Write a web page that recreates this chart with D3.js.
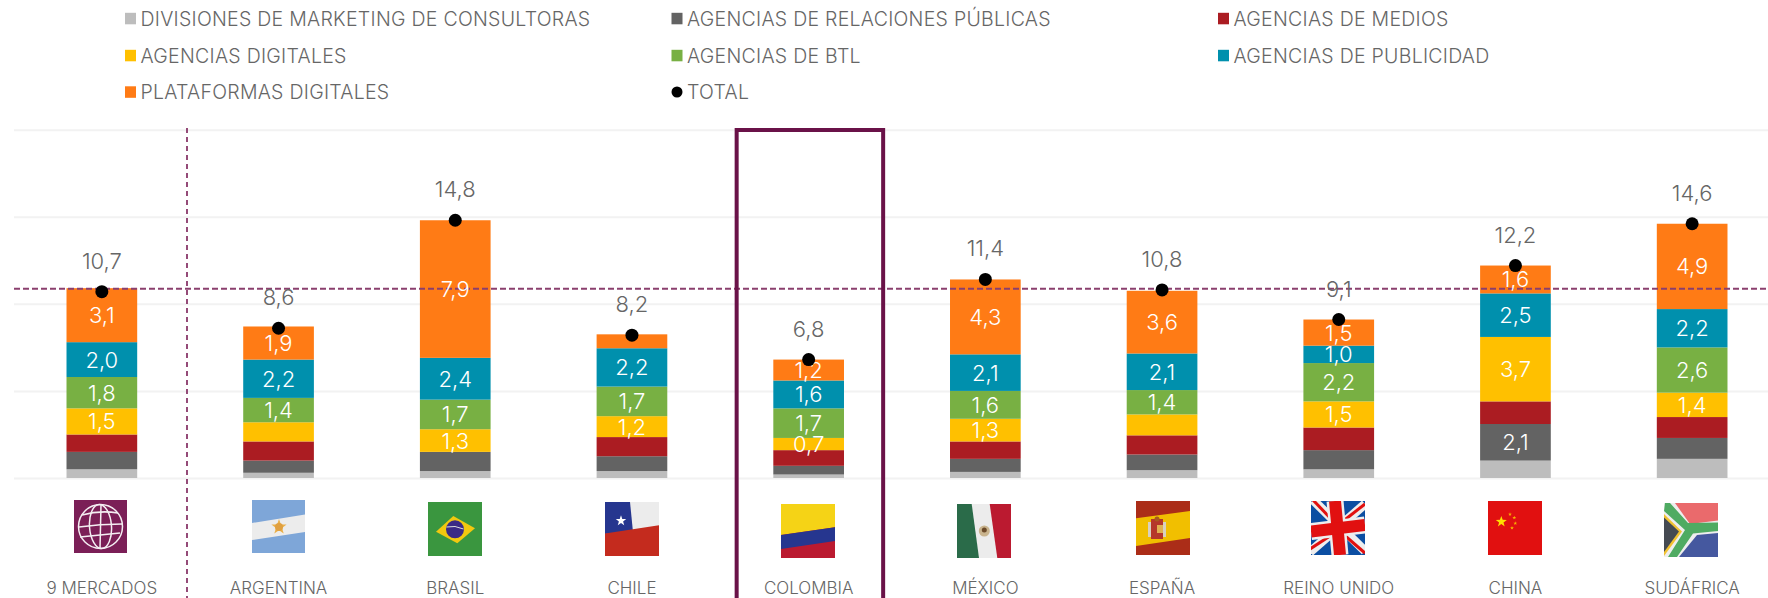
<!DOCTYPE html>
<html lang="es"><head><meta charset="utf-8">
<script src="https://cdn.jsdelivr.net/npm/d3@7"></script>
<style>
html,body{margin:0;padding:0;background:#fff;overflow:hidden}
svg{display:block;font-family:Inter,"Open Sans",sans-serif;font-weight:300}
</style></head><body><svg id="c" width="1768" height="598"></svg>
<script>
const categories=["9 MERCADOS","ARGENTINA","BRASIL","CHILE","COLOMBIA","MÉXICO","ESPAÑA","REINO UNIDO","CHINA","SUDÁFRICA"];
const consultoras=[0.5,0.3,0.4,0.4,0.2,0.35,0.45,0.5,1.0,1.1];
const relaciones=[1.0,0.7,1.1,0.85,0.5,0.75,0.9,1.1,2.1,1.2];
const medios=[1.0,1.1,0,1.1,0.9,1.0,1.1,1.3,1.3,1.2];
const digitales=[1.5,1.1,1.3,1.2,0.7,1.3,1.2,1.5,3.7,1.4];
const btl=[1.8,1.4,1.7,1.7,1.7,1.6,1.4,2.2,0,2.6];
const publicidad=[2.0,2.2,2.4,2.2,1.6,2.1,2.1,1.0,2.5,2.2];
const plataformas=[3.1,1.9,7.9,0.8,1.2,4.3,3.6,1.5,1.6,4.9];
const totals=[10.7,8.6,14.8,8.2,6.8,11.4,10.8,9.1,12.2,14.6];
const average=10.86;
const seriesNames=["DIVISIONES DE MARKETING DE CONSULTORAS","AGENCIAS DE RELACIONES PÚBLICAS","AGENCIAS DE MEDIOS","AGENCIAS DIGITALES","AGENCIAS DE BTL","AGENCIAS DE PUBLICIDAD","PLATAFORMAS DIGITALES"];
const totalName="TOTAL";
const seriesColors=["#bdbdbd","#636363","#ab1c22","#ffc000","#78b043","#0090ad","#ff7b15"];
const seriesValues=[consultoras,relaciones,medios,digitales,btl,publicidad,plataformas];
// indexes of the categories whose segment carries a printed label, per series
const labelled=[
 [],
 [8],
 [],
 [0,2,3,4,5,7,8,9],
 [0,1,2,3,4,5,6,7,9],
 [0,1,2,3,4,5,6,7,8,9],
 [0,1,2,4,5,6,7,8,9]
];
const tickValues=[0,5,10,15,20];

const svg=d3.select("#c");
const x=d3.scaleBand().domain(categories).range([13.5,1780.5]).paddingInner(.6).paddingOuter(.3);
const y=d3.scaleLinear().domain([0,20]).range([478,129.7]);
const cx=c=>x(c)+x.bandwidth()/2;
const fmt=v=>d3.format(".1f")(v).replace(".",",");

// grid
const axis=svg.append("g").attr("transform","translate(14,0)")
 .call(d3.axisLeft(y).tickValues(tickValues).tickSize(-1770).tickFormat(""));
axis.select(".domain").remove();
axis.selectAll("line").attr("stroke","#f2f2f2").attr("stroke-width",2);

// stacked bars
const rows=categories.map((c,i)=>{const o={cat:c};seriesNames.forEach((s,k)=>o[s]=seriesValues[k][i]);return o;});
const stacked=d3.stack().keys(seriesNames)(rows);
const groups=svg.append("g").selectAll("g").data(stacked).join("g").attr("fill",(d,i)=>seriesColors[i]);
groups.selectAll("rect").data(d=>d).join("rect")
 .attr("x",d=>x(d.data.cat)).attr("width",x.bandwidth())
 .attr("y",d=>y(d[1])).attr("height",d=>y(d[0])-y(d[1]));

// average line
svg.append("line").attr("x1",14).attr("x2",1768).attr("y1",y(average)).attr("y2",y(average))
 .attr("stroke","#8a3f6e").attr("stroke-width",2).attr("stroke-dasharray","6 3");

// vertical separator
svg.append("line").attr("x1",187).attr("x2",187).attr("y1",128).attr("y2",598)
 .attr("stroke","#7b1f57").attr("stroke-width",1.6).attr("stroke-dasharray","5 4");

// segment labels
const lab=svg.append("g").attr("fill","#fff").attr("font-size",22).attr("text-anchor","middle");
stacked.forEach((s,k)=>{
  labelled[k].forEach(i=>{
    const d=s[i];
    lab.append("text").attr("x",cx(categories[i])).attr("y",(y(d[0])+y(d[1]))/2+8).text(fmt(seriesValues[k][i]));
  });
});

// totals
svg.append("g").selectAll("circle").data(categories).join("circle")
 .attr("cx",c=>cx(c)).attr("cy",(c,i)=>y(totals[i])).attr("r",6.5).attr("fill","#000");
svg.append("g").attr("font-size",22).attr("fill","#666").attr("text-anchor","middle")
 .selectAll("text").data(categories).join("text")
 .attr("x",c=>cx(c)).attr("y",(c,i)=>y(totals[i])-23).text((c,i)=>fmt(totals[i]));

// Colombia highlight
svg.append("rect").attr("x",x("COLOMBIA")+x.bandwidth()/2-72).attr("y",130).attr("width",146.5).attr("height",520)
 .attr("fill","none").attr("stroke","#6a1248").attr("stroke-width",4);

// category labels
svg.append("g").attr("font-size",17).attr("fill","#666").attr("text-anchor","middle")
 .selectAll("text").data(categories).join("text")
 .attr("x",c=>cx(c)).attr("y",594).text(c=>c);

// legend
const legendX=[125,671.5,1218], legendY=[18.5,55.5,92];
const legendItems=seriesNames.concat([totalName]);
const leg=svg.append("g").attr("font-size",19.5).attr("letter-spacing",.27).attr("fill","#666");
legendItems.forEach((n,i)=>{
  const lx=legendX[i%3], ly=legendY[Math.floor(i/3)];
  if(n===totalName) leg.append("circle").attr("cx",lx+5.5).attr("cy",ly).attr("r",5.5).attr("fill","#000");
  else leg.append("rect").attr("x",lx).attr("y",ly-5.7).attr("width",11).attr("height",11.5).attr("fill",seriesColors[i]);
  leg.append("text").attr("x",lx+15.5).attr("y",ly+7).text(n);
});

// flags
const P=(g,pts,f)=>g.append("polygon").attr("points",pts.map(p=>p.join(",")).join(" ")).attr("fill",f);
const R=(g,x0,y0,w,h,f)=>g.append("rect").attr("x",x0).attr("y",y0).attr("width",w).attr("height",h).attr("fill",f);
const C=(g,a,b,r,f)=>g.append("circle").attr("cx",a).attr("cy",b).attr("r",r).attr("fill",f);
const star=(g,a,b,r,f)=>{const pts=d3.range(10).map(i=>{const t=-Math.PI/2+i*Math.PI/5,q=i%2?r*.4:r;return [a+q*Math.cos(t),b+q*Math.sin(t)];});P(g,pts,f);};
const flags={
 "9 MERCADOS":g=>{R(g,0,0,53,53,"#7b1f57");
   const s=g.append("g").attr("fill","none").attr("stroke","#f4eef2").attr("stroke-width",1.5);
   s.append("circle").attr("cx",26.5).attr("cy",26.5).attr("r",22);
   s.append("ellipse").attr("cx",26.5).attr("cy",26.5).attr("rx",11).attr("ry",22).attr("transform","rotate(-4 26.5 26.5)");
   s.append("line").attr("x1",27).attr("y1",5).attr("x2",26).attr("y2",49);
   s.append("path").attr("d","M8 15Q26 10 44 13M5 27Q26 24 48 24M6 37Q26 35 46 33");
 },
 "ARGENTINA":g=>{R(g,0,0,53,53,"#7ea6d8");P(g,[[0,23],[53,14.5],[53,32],[0,40]],"#ececec");
   star(g,27,27,8,"#eab04a");C(g,27,27,4,"#e0a040");},
 "BRASIL":g=>{R(g,0,0,54,54,"#3a963f");P(g,[[8,29.7],[25.3,14],[47,26.3],[29.3,41.3]],"#f2c80f");C(g,27,27.3,9,"#3a2a86");
   g.append("path").attr("d","M18.5 25Q27 23 35.5 27").attr("stroke","#ddd").attr("fill","none");},
 "CHILE":g=>{R(g,0,0,54,54,"#ececec");P(g,[[0,0],[25,0],[28,30],[0,32]],"#26368f");P(g,[[0,31.5],[54,23.3],[54,54],[0,54]],"#c42b1e");star(g,16,18.7,5.5,"#fff");},
 "COLOMBIA":g=>{R(g,0,0,54,54,"#bb1a30");P(g,[[0,0],[54,0],[54,23.3],[0,31]],"#f5d316");P(g,[[0,31],[54,23.3],[54,37],[0,45]],"#26368f");},
 "MÉXICO":g=>{R(g,0,0,54,54,"#ececec");P(g,[[0,0],[14.7,0],[22,54],[0,54]],"#2a6b49");P(g,[[32.7,0],[54,0],[54,54],[40.3,54]],"#bb1a30");
   C(g,27.3,27,5.5,"#c9b48e");C(g,27.3,26,2.5,"#6b4a2a");},
 "ESPAÑA":g=>{R(g,0,0,54,54,"#ab2d18");P(g,[[0,17.3],[54,10],[54,37],[0,45]],"#f1bf00");
   R(g,12,21,18,15,"#d8d0c0");R(g,15,18,12,20,"#b5372a");R(g,21,24,6,8,"#e0b050");C(g,21,18,2.5,"#a85a20");},
 "REINO UNIDO":g=>{R(g,0,0,54,54,"#0b4ea2");
   const l=(a,b,c,d,col,w)=>g.append("line").attr("x1",a).attr("y1",b).attr("x2",c).attr("y2",d).attr("stroke",col).attr("stroke-width",w);
   l(2,-1,54,50,"#eee",9);l(-1,51,54,3,"#eee",9);
   l(2,-1,24,22,"#e11010",3);l(32,33,54,52,"#e11010",3);l(31,21,54,3,"#e11010",3);l(-1,48,22,33,"#e11010",3);
   l(24,0,29,54,"#eee",17);l(0,30.5,54,24,"#eee",17);
   l(24,0,29,54,"#e11010",12);l(0,30.5,54,24,"#e11010",12);},
 "CHINA":g=>{R(g,0,0,54,54,"#e11010");star(g,13.3,20.7,5.8,"#ffde00");
   [[22,13.3],[26.3,16.7],[27.3,22.3],[24,27]].forEach(p=>star(g,p[0],p[1],2,"#f7b500"));},
 "SUDÁFRICA":g=>{R(g,0,0,54,54,"#eee");
   P(g,[[11,0],[54,0],[54,17.5],[26,21]],"#ea6a6c");
   P(g,[[33,32],[54,30],[54,54],[15,54]],"#45589f");
   P(g,[[1,0],[6,0],[24,20],[54,19.5],[54,28],[29,30.5],[13,54],[4,54],[21,27],[0,8]],"#4fab62");
   P(g,[[0,11],[18,28.5],[0,53]],"#f2c230");
   P(g,[[0,14.5],[15,28.5],[0,49]],"#454a52");}
};
const flagTop={"9 MERCADOS":500,"ARGENTINA":500,"BRASIL":502,"CHILE":502,"COLOMBIA":504,"MÉXICO":504,"ESPAÑA":501,"REINO UNIDO":501,"CHINA":501,"SUDÁFRICA":503};
const flagNudge={"9 MERCADOS":-1,"COLOMBIA":-1,"MÉXICO":-1,"ESPAÑA":1,"REINO UNIDO":-1,"SUDÁFRICA":-1};
const defs=svg.append("defs");
categories.forEach((c,i)=>{
  defs.append("clipPath").attr("id","fc"+i).append("rect").attr("width",54).attr("height",54);
  const g=svg.append("g").attr("transform",`translate(${Math.round(cx(c)-27)+(flagNudge[c]||0)},${flagTop[c]})`).attr("clip-path",`url(#fc${i})`);
  flags[c](g);
});
</script></body></html>
